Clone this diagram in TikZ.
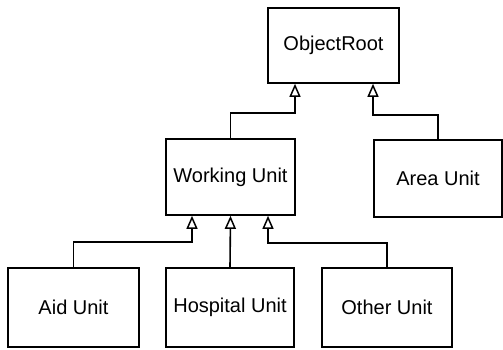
\documentclass[tikz,border=0pt]{standalone}
\usepackage{fontspec}
\setmainfont{Liberation Sans}
\usetikzlibrary{arrows.meta}
\begin{document}
\begin{tikzpicture}[x=1pt,y=-1pt,
  cls/.style={draw, line width=1.6pt, minimum width=#1, minimum height=78pt,
    inner sep=0pt, font=\fontsize{20}{22}\selectfont},
  gen/.style={line width=1.6pt, -{Triangle[open, length=13pt, width=11pt, line width=1.5pt]}}]
\useasboundingbox (0,0) rectangle (503,349);
% class boxes
\node[cls=131pt, minimum height=75pt] (root) at (333.5,45.5) {ObjectRoot};
\node[cls=129pt, minimum height=76pt] (work) at (230.5,177) {Working Unit};
\node[cls=128pt, minimum height=77pt] (area) at (438,178.5) {Area Unit};
\node[cls=131pt, minimum height=79pt] (aid) at (73.5,307.5) {Aid Unit};
\node[cls=128pt, minimum height=79pt] (hosp) at (230,307.5) {Hospital Unit};
\node[cls=130pt, minimum height=79pt] (other) at (387,307.5) {Other Unit};
% generalisation connectors
\draw[gen] (work.north) |- (295,113) -- (root.south -| 295,0);
\draw[gen] (area.north) |- (373,115) -- (root.south -| 373,0);
\draw[gen] (aid.north) |- (192,242) -- (work.south -| 192,0);
\draw[gen] (hosp.north) -- (work.south);
\draw[gen] (other.north) |- (268,243) -- (work.south -| 268,0);
\end{tikzpicture}
\end{document}
